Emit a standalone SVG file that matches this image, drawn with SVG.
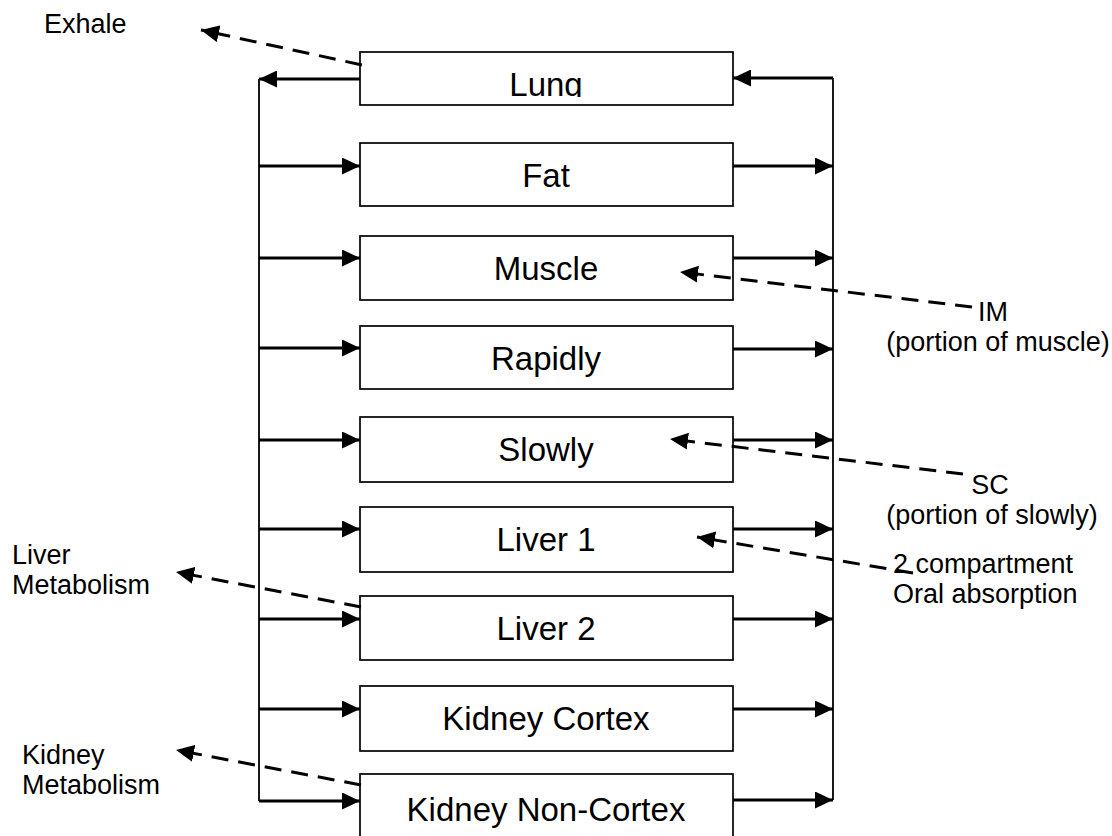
<svg xmlns="http://www.w3.org/2000/svg" width="1112" height="836" viewBox="0 0 1112 836">
<style>
.box{fill:#fff;stroke:#000;stroke-width:1.7}
.bl{font-family:"Liberation Sans",Arial,sans-serif;font-size:33px;text-anchor:middle;fill:#000}
.sl{font-family:"Liberation Sans",Arial,sans-serif;font-size:27px;fill:#000}
.slc{font-family:"Liberation Sans",Arial,sans-serif;font-size:27px;fill:#000;text-anchor:middle}
.bus{fill:none;stroke:#000;stroke-width:1.8}
.flow{fill:none;stroke:#000;stroke-width:2.8;marker-end:url(#ah)}
.dash{fill:none;stroke:#000;stroke-width:3;stroke-dasharray:17 10;marker-end:url(#ah)}
</style>
<defs>
<marker id="ah" viewBox="0 0 18 17" refX="18" refY="8.5" markerWidth="18" markerHeight="17" markerUnits="userSpaceOnUse" orient="auto">
<path d="M0,0 L18,8.5 L0,17 z" fill="#000"/>
</marker>
<clipPath id="lungclip"><rect x="360" y="52" width="373" height="45"/></clipPath>
</defs>

<g id="node-lung"><rect class="box" x="360" y="52" width="373" height="53"/><text class="bl" x="546" y="96" clip-path="url(#lungclip)">Lung</text></g>
<g id="node-fat"><rect class="box" x="360" y="143" width="373" height="63"/><text class="bl" x="546" y="187">Fat</text></g>
<g id="node-muscle"><rect class="box" x="360" y="236" width="373" height="64"/><text class="bl" x="546" y="280">Muscle</text></g>
<g id="node-rapidly"><rect class="box" x="360" y="326" width="373" height="63"/><text class="bl" x="546" y="370">Rapidly</text></g>
<g id="node-slowly"><rect class="box" x="360" y="417" width="373" height="65"/><text class="bl" x="546" y="461">Slowly</text></g>
<g id="node-liver1"><rect class="box" x="360" y="507" width="373" height="65"/><text class="bl" x="546" y="551">Liver 1</text></g>
<g id="node-liver2"><rect class="box" x="360" y="596" width="373" height="64"/><text class="bl" x="546" y="640">Liver 2</text></g>
<g id="node-kidney-cortex"><rect class="box" x="360" y="686" width="373" height="65"/><text class="bl" x="546" y="730">Kidney Cortex</text></g>
<g id="node-kidney-noncortex"><rect class="box" x="360" y="774" width="373" height="80"/><text class="bl" x="546" y="821">Kidney Non-Cortex</text></g>

<g id="labels">
<text class="sl" x="44" y="33">Exhale</text>
<text class="slc" x="993" y="321">IM</text>
<text class="slc" x="998" y="351">(portion of muscle)</text>
<text class="slc" x="990" y="494">SC</text>
<text class="slc" x="992" y="524">(portion of slowly)</text>
<text class="sl" x="893" y="573">2 compartment</text>
<text class="sl" x="893" y="603">Oral absorption</text>
<text class="sl" x="12" y="564">Liver</text>
<text class="sl" x="12" y="594">Metabolism</text>
<text class="sl" x="22" y="764">Kidney</text>
<text class="sl" x="22" y="794">Metabolism</text>
</g>

<g id="connectors">
<path class="bus" d="M259,79 V801"/>
<path class="bus" d="M833,78 V800"/>
<path class="flow" d="M360,79 H259"/>
<path class="flow" d="M833,78 H733"/>
<path class="flow" d="M259,166 H360"/><path class="flow" d="M733,166 H833"/>
<path class="flow" d="M259,258 H360"/><path class="flow" d="M733,258 H833"/>
<path class="flow" d="M259,348 H360"/><path class="flow" d="M733,349 H833"/>
<path class="flow" d="M259,440 H360"/><path class="flow" d="M733,440 H833"/>
<path class="flow" d="M259,529 H360"/><path class="flow" d="M733,529 H833"/>
<path class="flow" d="M259,619 H360"/><path class="flow" d="M733,619 H833"/>
<path class="flow" d="M259,709 H360"/><path class="flow" d="M733,709 H833"/>
<path class="flow" d="M259,801 H360"/><path class="flow" d="M733,800 H833"/>
<path class="dash" d="M362,65 L201,30"/>
<path class="dash" d="M972,307 L680,272"/>
<path class="dash" d="M963,474 L670,439"/>
<path class="dash" d="M913,573 L697,537"/>
<path class="dash" d="M361,607 L176,572"/>
<path class="dash" d="M361,785 L176,750"/>
</g>
</svg>
